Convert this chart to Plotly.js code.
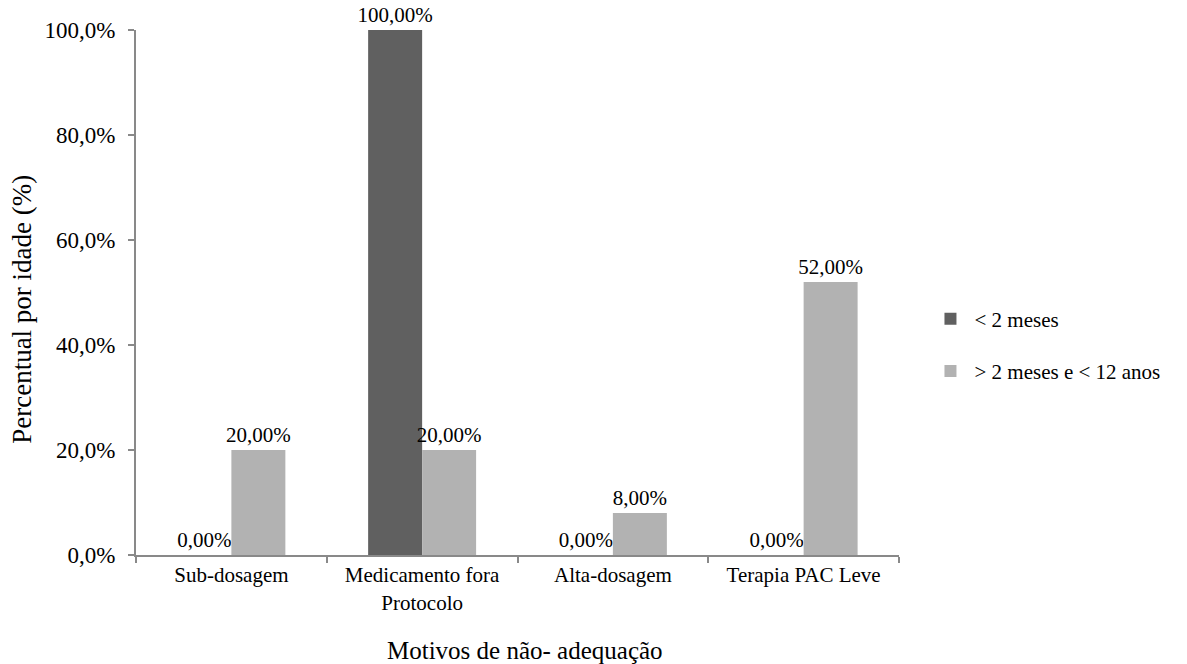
<!DOCTYPE html>
<html>
<head>
<meta charset="utf-8">
<script src="https://cdn.plot.ly/plotly-3.0.1.min.js"></script>
<style>html,body{margin:0;padding:0;background:#fff;}#chart{width:1187px;height:664px;}</style>
</head>
<body>
<div id="chart"></div>
<script>
// Motivos de não-adequação por faixa etária
const categorias = ['Sub-dosagem', 'Medicamento fora<br>Protocolo', 'Alta-dosagem', 'Terapia PAC Leve'];
const serieMenos2Meses = [0, 100, 0, 0];
const serie2Meses12Anos = [20, 20, 8, 52];
const nomesSeries = ['< 2 meses', '> 2 meses e < 12 anos'];
const ticksY = [0, 20, 40, 60, 80, 100];
const rotulosY = ['0,0%', '20,0%', '40,0%', '60,0%', '80,0%', '100,0%'];
const tituloX = 'Motivos de não- adequação';
const tituloY = 'Percentual por idade (%)';

const fonte = 'Liberation Serif';

function serie(nome, valores, cor, grupo) {
  return {
    type: 'bar', name: nome, x: categorias, y: valores,
    marker: {color: cor}, legendgroup: grupo,
    texttemplate: '%{y:.2f}%', textposition: 'outside', cliponaxis: false,
    constraintext: 'none',
    textfont: {family: fonte, size: 21, color: '#000'}, hoverinfo: 'none'
  };
}

const traces = [
  serie(nomesSeries[0], serieMenos2Meses, '#606060', 'a'),
  serie(nomesSeries[1], serie2Meses12Anos, '#b2b2b2', 'b')
];

const layout = {
  width: 1187, height: 664,
  margin: {l: 136, r: 288, t: 30, b: 109},
  paper_bgcolor: '#fff', plot_bgcolor: '#fff',
  font: {family: fonte, color: '#000'},
  separators: ',.',
  barmode: 'group', bargap: 0.434, bargroupgap: 0,
  xaxis: {
    type: 'category', showgrid: false, zeroline: false,
    showline: true, linecolor: '#898989', linewidth: 2,
    ticks: 'outside', tickson: 'boundaries', ticklen: 6, tickcolor: '#898989', tickwidth: 2,
    tickfont: {family: fonte, size: 21}
  },
  yaxis: {
    range: [0, 100], tickmode: 'array', tickvals: ticksY, ticktext: rotulosY,
    showgrid: false, zeroline: false,
    showline: true, linecolor: '#898989', linewidth: 2,
    ticks: 'outside', ticklen: 6, tickcolor: '#898989', tickwidth: 2,
    ticklabelstandoff: 8,
    tickfont: {family: fonte, size: 23}
  },
  annotations: [
    {text: tituloX, xref: 'paper', yref: 'paper', x: 0.5098, y: -0.181,
     xanchor: 'center', yanchor: 'middle', showarrow: false,
     font: {family: fonte, size: 25}},
    {text: tituloY, xref: 'paper', yref: 'paper', x: -0.1494, y: 0.467,
     xanchor: 'center', yanchor: 'middle', showarrow: false, textangle: -90,
     font: {family: fonte, size: 27}}
  ],
  showlegend: true,
  legend: {
    x: 1.036, y: 0.40, xanchor: 'left', yanchor: 'middle',
    font: {family: fonte, size: 21}, tracegroupgap: 22, itemwidth: 38,
    bgcolor: 'rgba(0,0,0,0)'
  }
};

Plotly.newPlot('chart', traces, layout, {staticPlot: true});
</script>
</body>
</html>
